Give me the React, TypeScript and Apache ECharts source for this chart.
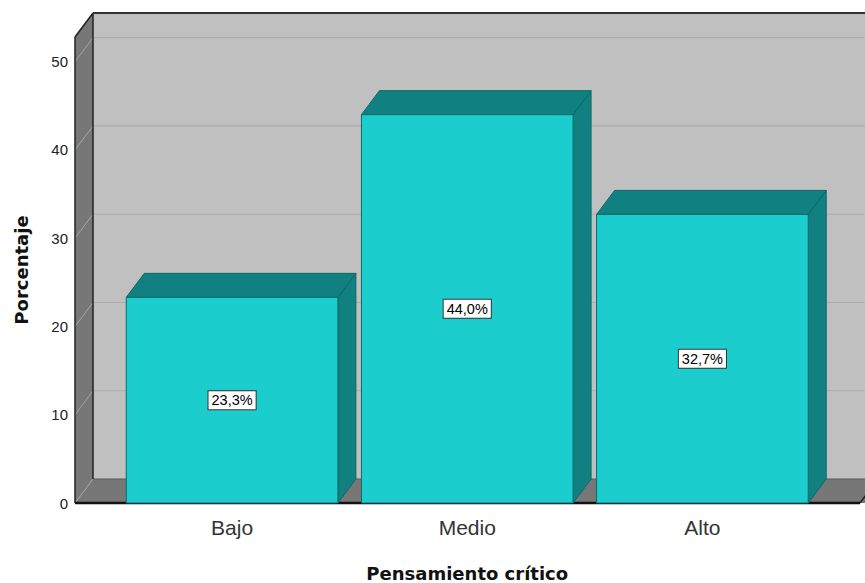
import React, { useEffect, useRef } from "react";
import * as echarts from "echarts";

const categories = ["Bajo", "Medio", "Alto"];
const percentages = [23.3, 44.0, 32.7];
const yTicks = [0, 10, 20, 30, 40, 50];
const yMax = 52.8;

const DX = 18;
const DY = -24;
const FONT = "'Liberation Sans', Arial, sans-serif";
const TITLE_FONT = "'DejaVu Sans', Verdana, sans-serif";

function fmt(v: number) {
  return v.toFixed(1).replace(".", ",") + "%";
}

export default function App() {
  const ref = useRef<HTMLDivElement>(null);
  useEffect(() => {
    if (!ref.current) return;
    const chart = echarts.init(ref.current, undefined, { renderer: "svg" });

    const renderBackground = (params: any, api: any) => {
      const cs = params.coordSys;
      const xL = cs.x;
      const xR = cs.x + cs.width;
      const yT = cs.y;
      const yB = cs.y + cs.height;
      const children: any[] = [];
      children.push({
        type: "rect",
        shape: { x: xL + DX, y: yT + DY, width: xR - xL + 60, height: yB - yT },
        style: { fill: "#c0c0c0" },
      });
      yTicks.forEach((t) => {
        if (t === 0) return;
        const y = api.coord([0, t])[1] + DY;
        children.push({
          type: "line",
          shape: { x1: xL + DX, y1: y, x2: xR + 60, y2: y },
          style: { stroke: "#acacac", lineWidth: 1.2 },
        });
      });
      children.push({
        type: "polygon",
        shape: { points: [[xL, yT], [xL + DX, yT + DY], [xL + DX, yB + DY], [xL, yB]] },
        style: { fill: "#777777" },
      });
      children.push({
        type: "polygon",
        shape: { points: [[xL, yB], [xL + DX, yB + DY], [xR + DX + 20, yB + DY], [xR + 20, yB], [xR, yB]] },
        style: { fill: "#777777" },
      });
      yTicks.forEach((t) => {
        const y = api.coord([0, t])[1];
        children.push({
          type: "line",
          shape: { x1: xL, y1: y, x2: xL + DX, y2: y + DY },
          style: { stroke: "#a4a4a4", lineWidth: 1 },
        });
      });
      const edge = (x1: number, y1: number, x2: number, y2: number, c: string, w: number) =>
        children.push({ type: "line", shape: { x1, y1, x2, y2 }, style: { stroke: c, lineWidth: w } });
      edge(xL + DX, yB + DY, xR + 60, yB + DY, "#5a5a5a", 1);
      edge(xL + DX, yT + DY, xL + DX, yB + DY, "#222222", 1.5);
      edge(xL, yT, xL, yB, "#222222", 1.5);
      edge(xL, yT, xL + DX, yT + DY, "#222222", 1.5);
      edge(xL + DX, yT + DY, xR + 60, yT + DY, "#333333", 2);
      edge(xR, yB, xR + DX, yB + DY, "#222222", 1.5);
      edge(xL, yB, xR, yB, "#111111", 2.5);
      return { type: "group", children };
    };

    const renderBar = (params: any, api: any) => {
      const i = api.value(0);
      const v = api.value(1);
      const p0 = api.coord([i, 0]);
      const p1 = api.coord([i, v]);
      const bw = api.size([1, 0])[0] * 0.9;
      const x0 = p0[0] - bw / 2;
      const x1 = p0[0] + bw / 2;
      const yTop = p1[1];
      const yBot = p0[1];
      const stroke = "#0d6a6a";
      return {
        type: "group",
        children: [
          {
            type: "polygon",
            shape: { points: [[x1, yTop], [x1 + DX, yTop + DY], [x1 + DX, yBot + DY], [x1, yBot]] },
            style: { fill: "#118080", stroke, lineWidth: 1 },
          },
          {
            type: "polygon",
            shape: { points: [[x0, yTop], [x0 + DX, yTop + DY], [x1 + DX, yTop + DY], [x1, yTop]] },
            style: { fill: "#118080", stroke, lineWidth: 1 },
          },
          {
            type: "rect",
            shape: { x: x0, y: yTop, width: bw, height: yBot - yTop },
            style: { fill: "#1ccdcd", stroke, lineWidth: 1 },
          },
          {
            type: "text",
            x: p0[0],
            y: (yTop + yBot) / 2,
            style: {
              text: fmt(v),
              fill: "#000000",
              fontSize: 14.5,
              fontFamily: FONT,
              align: "center",
              verticalAlign: "middle",
              backgroundColor: "#ffffff",
              borderColor: "#333333",
              borderWidth: 1,
              padding: [2, 3, 1, 3],
            },
          },
        ],
      };
    };

    chart.setOption({
      animation: false,
      backgroundColor: "#ffffff",
      grid: [
        { left: 75, right: 5, top: 37, bottom: 80, outerBoundsMode: "none", containLabel: false },
        { left: 114.5, right: 45, top: 37, bottom: 80, outerBoundsMode: "none", containLabel: false },
      ],
      xAxis: [
        { type: "value", gridIndex: 0, min: 0, max: 1, show: false },
        {
          type: "category",
          gridIndex: 1,
          data: categories,
          axisLine: { show: false },
          axisTick: { show: false },
          axisLabel: { color: "#333333", fontSize: 21, fontFamily: FONT, margin: 14 },
          name: "Pensamiento crítico",
          nameLocation: "middle",
          nameGap: 61,
          nameTextStyle: { color: "#111111", fontSize: 18, fontWeight: "bold", fontFamily: TITLE_FONT },
        },
      ],
      yAxis: [
        {
          type: "value",
          gridIndex: 0,
          min: 0,
          max: yMax,
          interval: 10,
          axisLine: { show: false },
          axisTick: { show: false },
          splitLine: { show: false },
          axisLabel: {
            color: "#222222",
            fontSize: 15,
            fontFamily: FONT,
            margin: 7,
            formatter: (v: number) => (yTicks.indexOf(v) >= 0 ? String(v) : ""),
          },
          name: "Porcentaje",
          nameLocation: "middle",
          nameGap: 45,
          nameTextStyle: { color: "#111111", fontSize: 18, fontWeight: "bold", fontFamily: TITLE_FONT },
        },
        { type: "value", gridIndex: 1, min: 0, max: yMax, interval: 10, show: false },
      ],
      series: [
        {
          type: "custom",
          xAxisIndex: 0,
          yAxisIndex: 0,
          data: [[0, 0]],
          renderItem: renderBackground,
          clip: false,
          silent: true,
          z: 0,
        },
        {
          type: "custom",
          xAxisIndex: 1,
          yAxisIndex: 1,
          data: percentages.map((v, i) => [i, v]),
          renderItem: renderBar,
          clip: false,
          z: 2,
        },
      ],
    });
    return () => chart.dispose();
  }, []);
  return <div ref={ref} style={{ position: "fixed", left: 0, top: 0, width: 865, height: 583 }} />;
}
